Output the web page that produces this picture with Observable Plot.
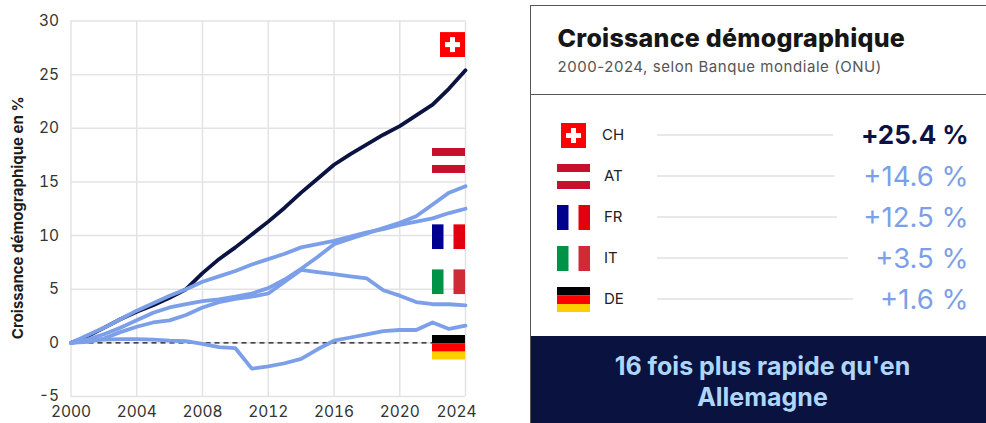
<!DOCTYPE html>
<html lang="fr">
<head>
<meta charset="utf-8">
<script src="https://cdn.jsdelivr.net/npm/d3@7"></script>
<script src="https://cdn.jsdelivr.net/npm/@observablehq/plot@0.6"></script>
<style>
html,body{margin:0;padding:0;background:#fff;overflow:hidden}
body{width:986px;height:423px;position:relative;font-family:Inter,"Noto Sans",sans-serif}
#chart{position:absolute;left:0;top:0}
#panel{position:absolute;left:530px;top:5px;right:0;bottom:0;border-left:1.5px solid #555;border-top:1.5px solid #555;box-sizing:border-box;display:flex;flex-direction:column}
#head{height:89px;border-bottom:1.5px solid #555;box-sizing:border-box;padding:17px 0 0 26.5px}
#head h1{margin:0;font-size:25px;line-height:30px;font-weight:800;color:#161616;letter-spacing:.25px}
#head p{margin:5px 0 0;font-size:15px;line-height:18px;color:#555;letter-spacing:.55px}
#rows{flex:1;padding-top:27.5px;box-sizing:border-box}
.row{height:41px;position:relative}
.row img{position:absolute;top:0;height:25px}
.row .code{position:absolute;top:2.5px;font-size:15px;line-height:20px;color:#222}
.row .line{position:absolute;left:125.5px;top:11.5px;height:1.5px;background:#e8e8e8}
.row .val{position:absolute;right:17.5px;top:-4.5px;font-size:27.5px;line-height:34px;color:#7c9fe9}
.row.first .val{color:#0a1342;font-weight:700;font-size:26px;letter-spacing:-.1px}
#band{height:87px;background:#0a1340;color:#aed6fb;font-size:25px;font-weight:700;line-height:31px;text-align:center;box-sizing:border-box;padding:14.5px 0 0 8px}
</style>
</head>
<body>
<div id="chart"></div>
<div id="panel">
  <div id="head"><h1 id="title"></h1><p id="sub"></p></div>
  <div id="rows"></div>
  <div id="band"></div>
</div>
<script>
const years = [2000,2001,2002,2003,2004,2005,2006,2007,2008,2009,2010,2011,2012,2013,2014,2015,2016,2017,2018,2019,2020,2021,2022,2023,2024];
const CH = [0,0.6,1.4,2.2,2.9,3.5,4.2,5.0,6.5,7.8,8.9,10.1,11.3,12.6,14.0,15.3,16.6,17.6,18.5,19.4,20.2,21.2,22.2,23.7,25.4];
const AT = [0,0.3,0.8,1.4,2.1,2.8,3.3,3.6,3.9,4.05,4.3,4.6,5.1,5.9,6.9,8.0,9.2,9.7,10.2,10.7,11.2,11.8,12.9,14.0,14.6];
const FR = [0,0.7,1.4,2.2,3.0,3.7,4.4,5.0,5.7,6.2,6.7,7.3,7.8,8.3,8.9,9.2,9.5,9.9,10.3,10.6,11.0,11.3,11.6,12.1,12.5];
const IT = [0,0.1,0.4,1.0,1.5,1.9,2.1,2.6,3.3,3.8,4.1,4.3,4.6,5.7,6.8,6.6,6.4,6.2,6.0,4.9,4.4,3.8,3.6,3.6,3.5];
const DE = [0,0.2,0.3,0.35,0.35,0.3,0.2,0.15,-0.1,-0.4,-0.5,-2.4,-2.2,-1.9,-1.5,-0.6,0.2,0.5,0.8,1.1,1.2,1.2,1.9,1.3,1.6];

const codes = ["CH","AT","FR","IT","DE"];
const finals = ["+25.4 %","+14.6 %","+12.5 %","+3.5 %","+1.6 %"];
const flagY = [27.8,17,9.9,5.7,-0.4];
const flagW = [25,33,33,33,33];
const lineEnds = [176,178,180,191,196];
const flagLeft = [30,26,26,26,26];
const codeLeft = [71,73,73,73,73];
const xTicks = [2000,2004,2008,2012,2016,2020];
const yTicks = [-5,0,5,10,15,20,25,30];

const BLUE = "#7c9fe9", NAVY = "#0a1342";

function svgUri(w,h,body){
  return "data:image/svg+xml," + encodeURIComponent(`<svg xmlns="http://www.w3.org/2000/svg" width="${w}" height="${h}" viewBox="0 0 ${w} ${h}">${body}</svg>`);
}
const flagSvg = {
  CH: svgUri(25,25,'<rect width="25" height="25" fill="#f00"/><rect x="10" y="5" width="5" height="15" fill="#fff"/><rect x="5" y="10" width="15" height="5" fill="#fff"/>'),
  AT: svgUri(33,25,'<rect width="33" height="8" fill="#c8102e"/><rect y="17" width="33" height="8" fill="#c8102e"/>'),
  FR: svgUri(33,25,'<rect width="11.5" height="25" fill="#00008f"/><rect x="21.5" width="11.5" height="25" fill="#e1000f"/>'),
  IT: svgUri(33,25,'<rect width="11.5" height="25" fill="#009246"/><rect x="21.5" width="11.5" height="25" fill="#ce2b37"/>'),
  DE: svgUri(33,25,'<rect width="33" height="8.5" fill="#000"/><rect y="8.5" width="33" height="8.5" fill="#f00"/><rect y="17" width="33" height="8" fill="#ffce00"/>')
};

const series = {CH,AT,FR,IT,DE};
const rows = codes.flatMap(c => series[c].map((v,i)=>({code:c,year:years[i],value:v})));
const blueRows = rows.filter(d=>d.code!=="CH");
const chRows = rows.filter(d=>d.code==="CH");
const flags = codes.map((c,i)=>({code:c,y:flagY[i],w:flagW[i],src:flagSvg[c]}));

const plot = Plot.plot({
  width:530, height:423,
  marginLeft:70.5, marginRight:65, marginTop:20.5, marginBottom:27,
  style:{background:"transparent",fontFamily:"Inter, sans-serif",overflow:"visible"},
  x:{domain:[2000,2024],type:"linear",label:null},
  y:{domain:[-5,30],label:null},
  marks:[
    Plot.ruleX([...xTicks,2024],{stroke:"#e3e3e3",strokeWidth:1.5}),
    Plot.ruleY(yTicks,{stroke:"#e3e3e3",strokeWidth:1.5}),
    Plot.ruleY([0],{x1:2000,x2:2022,stroke:"#111",strokeWidth:1.3,strokeDasharray:"5 4"}),
    Plot.line(chRows,{x:"year",y:"value",stroke:NAVY,strokeWidth:3.8,strokeLinejoin:"round"}),
    Plot.line(blueRows,{x:"year",y:"value",z:"code",stroke:BLUE,strokeWidth:3.8,strokeLinejoin:"round"}),
    Plot.image(flags.filter(d=>d.code==="CH"),{x:()=>2024,y:"y",src:"src",width:25,height:25,dx:-13}),
    Plot.image(flags.filter(d=>d.code!=="CH"),{x:()=>2024,y:"y",src:"src",width:33,height:25,dx:-17}),
    Plot.axisY({ticks:yTicks,tickSize:0,tickPadding:12,fontSize:15.5,fill:"#333",label:null,tickFormat:d=>String(d)}),
    Plot.axisX({ticks:xTicks,tickSize:0,tickPadding:9.5,fontSize:15.5,fill:"#333",label:null,tickFormat:d=>String(d)}),
    Plot.axisX({ticks:[2024],tickSize:0,tickPadding:9.5,fontSize:15.5,fill:"#333",label:null,dx:-9,tickFormat:d=>String(d)}),
    Plot.text(["Croissance démographique en %"],{frameAnchor:"left",textAnchor:"middle",rotate:-90,dx:-53,dy:9,fontSize:15,fontWeight:700,fill:"#1c1c1c"})
  ]
});
document.getElementById("chart").append(plot);

document.getElementById("title").textContent = "Croissance démographique";
document.getElementById("sub").textContent = "2000-2024, selon Banque mondiale (ONU)";
document.getElementById("band").innerHTML = "16 fois plus rapide qu'en<br>Allemagne";
const host = document.getElementById("rows");
codes.forEach((c,i)=>{
  const r = document.createElement("div");
  r.className = "row" + (i===0?" first":"");
  r.innerHTML = `<img src="${flagSvg[c]}" style="left:${flagLeft[i]}px;width:${flagW[i]}px"><span class="code" style="left:${codeLeft[i]}px">${c}</span><span class="line" style="width:${lineEnds[i]}px"></span><span class="val">${finals[i]}</span>`;
  host.append(r);
});
</script>
</body>
</html>
